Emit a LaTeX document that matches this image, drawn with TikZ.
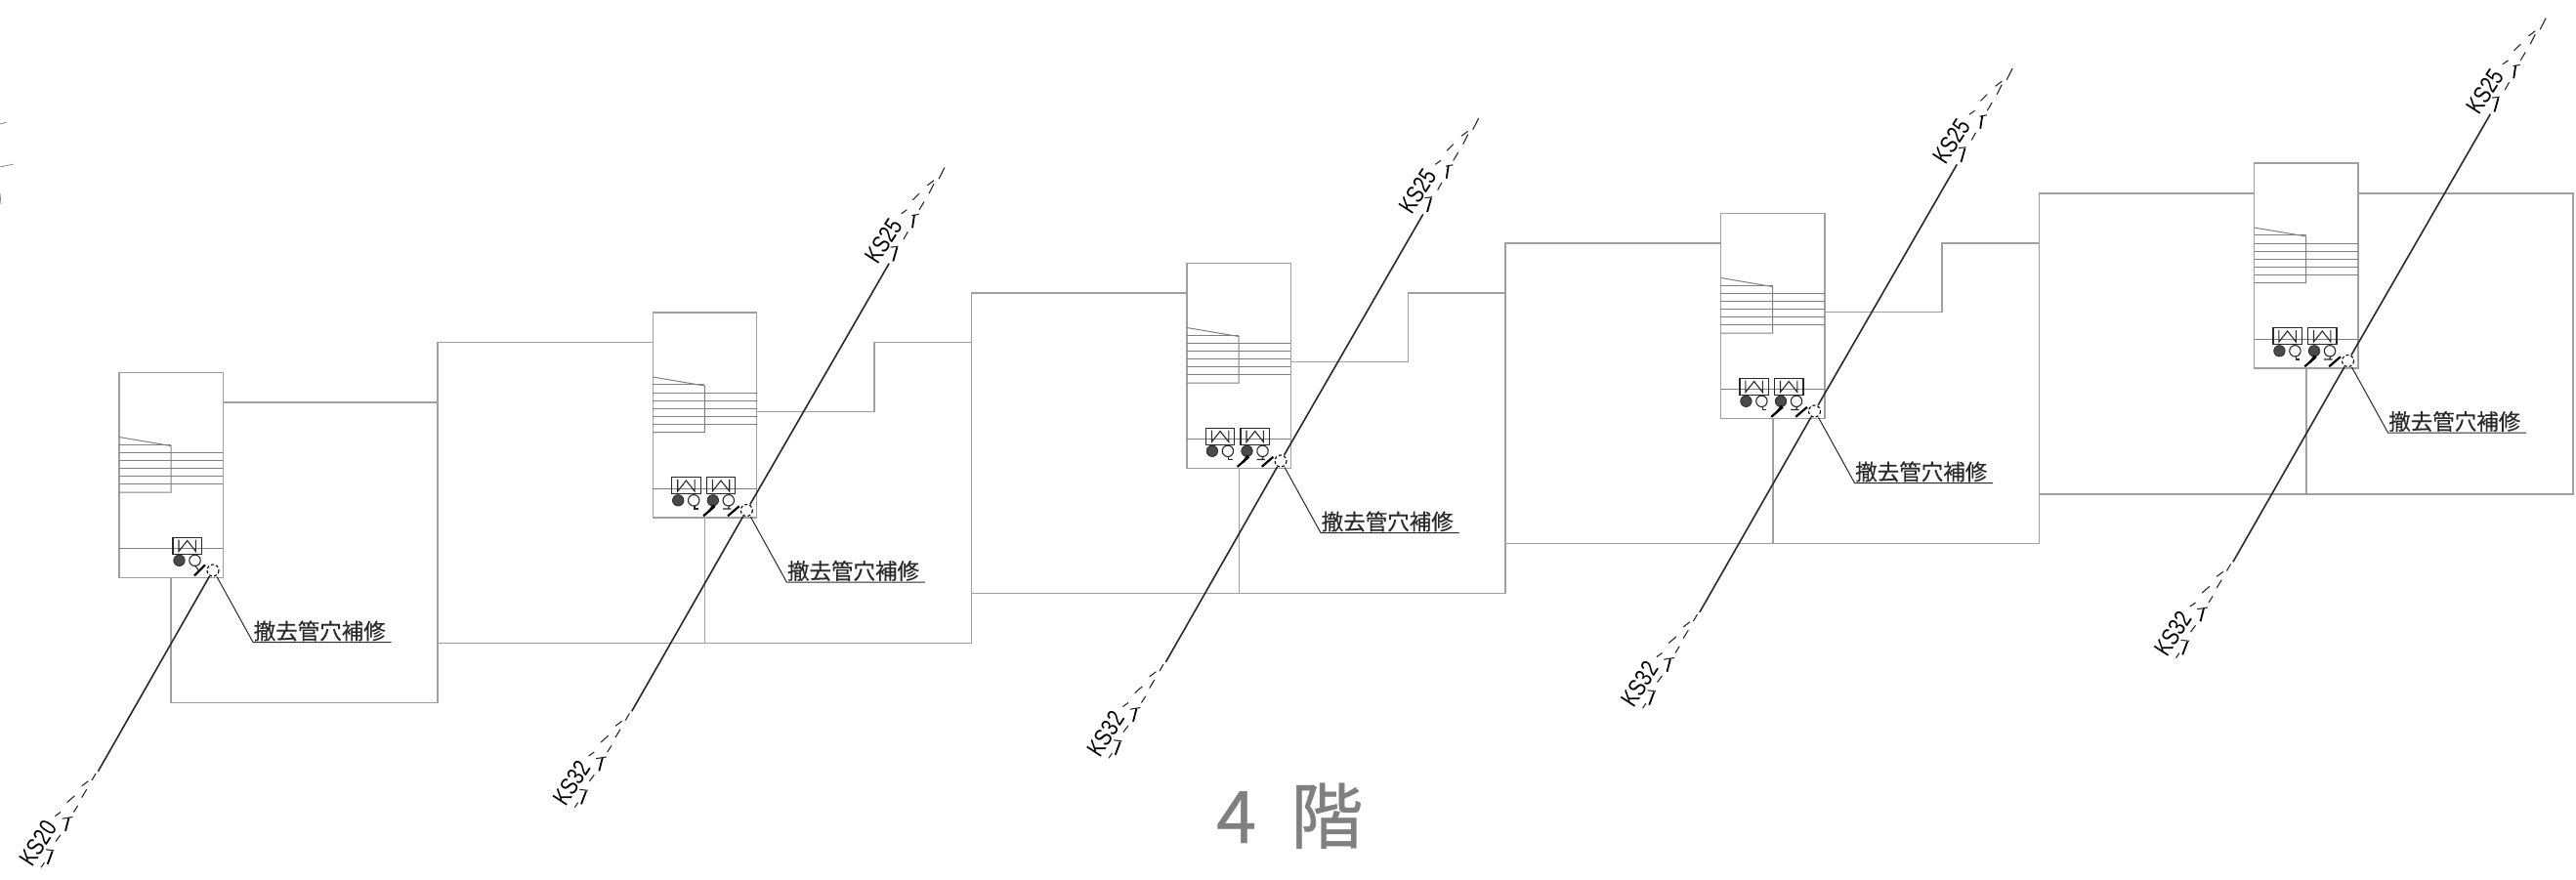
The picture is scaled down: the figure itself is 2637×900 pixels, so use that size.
\documentclass[tikz,border=0pt]{standalone}
\usepackage{fontspec}
\setmainfont{Liberation Sans}
\newfontfamily\jp[FakeBold=0.25]{Noto Sans CJK JP}
\newfontfamily\jptitle[FakeBold=0.6]{Noto Sans CJK JP}
\definecolor{wallc}{HTML}{A0A0A0}
\definecolor{inkc}{HTML}{2A2A2A}
\definecolor{titlec}{HTML}{808080}
\tikzset{
  wall/.style={draw=wallc,line width=1.3pt},
  thinwall/.style={draw=gray,line width=1.0pt},
  pipe/.style={draw=inkc,line width=1.6pt},
  dashpipe/.style={draw=inkc,line width=1.1pt},
  tick/.style={draw=inkc,line width=1.1pt},
  markstem/.style={draw=black,line width=1.8pt},
  slash/.style={draw=black,line width=2.2pt},
  mbox/.style={draw=inkc,line width=1.2pt},
  lead/.style={draw=inkc,line width=1.0pt},
  notetext/.style={font=\jp\fontsize{22.5}{22.5}\selectfont,text=inkc,inner sep=0pt,anchor=base west},
  kstext/.style={font=\fontsize{20}{20}\selectfont,text=black,inner sep=0pt,rotate=57,xscale=0.98,yscale=1.25},
  titletext/.style={font=\jptitle\fontsize{74}{74}\selectfont,text=titlec,inner sep=0pt,anchor=base west},
}
\newcommand{\shaftbox}[2]{
  \begin{scope}[shift={(#1,#2)}]
    \draw[wall] (0,0) rectangle (106.4,210);
    \draw[thinwall] (0,66) -- (53,75) -- (53,122.7) -- (0,122.7);
    \draw[thinwall] (0,73.7) -- (53,73.7);
    \foreach \yy in {82,90.3,98.3,106.3,114.3}{\draw[thinwall] (0,\yy) -- (106.4,\yy);}
    \draw[thinwall] (0,180) -- (106.4,180);
  \end{scope}}
\newcommand{\mtr}[1]{
  \begin{scope}[shift={(#1,0)}]
    \draw[mbox] (55,168.7) rectangle (84.4,185.7);
    \draw[tick] (61,171) -- (61,183) -- (69.7,172) -- (78.4,183) -- (78.4,171);
    \draw[draw=inkc,line width=0.8pt,fill=inkc!85] (61.5,192.3) circle (5.7);
    \draw[draw=inkc,line width=1.1pt,fill=white] (77.5,192.3) circle (5.7);
  \end{scope}}
\newcommand{\holenote}[3]{
  \begin{scope}[shift={(#1,#2)}]
    \coordinate (#3c) at (96,202.5);
    \draw[draw=black,line width=1.1pt,dash pattern=on 3pt off 2.2pt] (#3c) circle (6);
    \coordinate (#3u) at (137,276);
    \coordinate (#3v) at (278.5,276);
    \draw[lead] (100,209) -- (#3u) -- (#3v);
    \node[notetext] (#3n) at (137.5,273) {撤去管穴補修};
  \end{scope}}
\newcommand{\riserup}[4]{
  \begin{scope}[shift={(#1+96,#2+202.5)}]
    \coordinate (#3s) at (3.5,-6);
    \coordinate (#3t) at (145.8,-252.7);
    \draw[pipe] (#3s) -- (#3t);
    \draw[dashpipe] (202.7,-351) -- (196.7,-339.3) (191.7,-334.3) -- (186.7,-324.3) (181.7,-316) -- (176.7,-307.7) (165,-285.2) -- (160.7,-277.5);
    \draw[dashpipe] (191.7,-337.7) -- (185,-332.7) (176.7,-324.3) -- (170,-317.7) (164,-307.7) -- (158.4,-303.7);
    \draw[tick] (169,-301.8) -- (176.4,-303.2) (147.3,-269.3) -- (155,-270.3);
    \draw[markstem] (171.7,-302.5) -- (169.7,-289.2) (154,-269.3) -- (150,-255);
    \node[kstext] (#3) at (140,-276) {#4};
  \end{scope}}
\newcommand{\riserdown}[4]{
  \begin{scope}[shift={(#1+96,#2+202.5)}]
    \coordinate (#3s) at (-3.5,6);
    \coordinate (#3t) at (-117.6,205.8);
    \draw[pipe] (#3s) -- (#3t);
    \draw[dashpipe] (-120,208) -- (-124,215) (-129.3,224.2) -- (-134.3,232.5) (-138.3,240.8) -- (-142.6,247.5) (-156,270.8) -- (-161,277.5) (-172.6,299.2) -- (-176,304.2);
    \draw[dashpipe] (-127.6,215.8) -- (-134.3,220.8) (-141.6,230.8) -- (-149.3,237.5) (-156,247.5) -- (-161.6,251.5);
    \draw[tick] (-154.3,254.2) -- (-143.6,252.5) (-171,285.8) -- (-162.6,286.8);
    \draw[markstem] (-147.6,253.5) -- (-151,266.8) (-164.3,287.5) -- (-169.3,300.8);
    \node[kstext] (#3) at (-179.3,279.2) {#4};
  \end{scope}}
\begin{document}
\begin{tikzpicture}[x=1pt,y=-1pt]
\useasboundingbox (0,0) rectangle (2637,900);
\fill[white] (0,0) rectangle (2637,900);
\draw[wall] (227.5,412) -- (448,412);
\draw[wall] (175,591.5) -- (175,719.5) -- (448,719.5) -- (448,350.5) -- (668.3,350.5);
\draw[wall] (721.7,530) -- (721.7,658.5);
\draw[wall] (448,658.5) -- (994.5,658.5) -- (994.5,300) -- (1215,300);
\draw[wall] (774.7,421.3) -- (895,421.3) -- (895,350.5) -- (994.5,350.5);
\draw[wall] (1268.4,479.5) -- (1268.4,607.5);
\draw[wall] (994.5,607.5) -- (1541,607.5) -- (1541,249) -- (1761.5,249);
\draw[wall] (1321.4,370.5) -- (1441.5,370.5) -- (1441.5,300) -- (1541,300);
\draw[wall] (1814.9,428.5) -- (1814.9,556.5);
\draw[wall] (1541,556.5) -- (2087.5,556.5) -- (2087.5,198) -- (2307.5,198);
\draw[wall] (1867.9,319.5) -- (1988,319.5) -- (1988,249) -- (2087.5,249);
\draw[wall] (2361,377) -- (2361,506);
\draw[wall] (2087.5,506) -- (2634,506) -- (2634,198) -- (2414,198);
\shaftbox{122}{381.5}
\shaftbox{668.3}{320}
\shaftbox{1215}{269.5}
\shaftbox{1761.5}{218.5}
\shaftbox{2307.5}{167}
\begin{scope}[shift={(122,381.5)}]\mtr{0}\draw[slash] (77,207.8) -- (88,196.8);\draw[tick] (77.5,197.3) -- (81,202);\end{scope}
\foreach \ox/\oy in {668.3/320,1215/269.5,1761.5/218.5,2307.5/167}{
\begin{scope}[shift={(\ox,\oy)}]
  \mtr{-35.6}\mtr{0}
  \draw[slash] (51.7,208.3) -- (63.4,198.3);
  \draw[slash] (62.5,197) -- (57,204);
  \draw[slash] (76.7,208.3) -- (88.4,198.3);
  \draw[tick] (42.7,197.5) -- (42.7,201) -- (46.7,201);
  \draw[tick] (71.7,201) -- (80,201) (78.5,197.5) -- (77,201);
\end{scope}}
\holenote{122}{381.5}{a}
\holenote{668.3}{320}{b}
\holenote{1215}{269.5}{c}
\holenote{1761.5}{218.5}{d}
\holenote{2307.5}{167}{e}
\riserdown{122}{381.5}{la}{KS20}
\riserdown{668.3}{320}{lb}{KS32}
\riserup{668.3}{320}{ub}{KS25}
\riserdown{1215}{269.5}{lc}{KS32}
\riserup{1215}{269.5}{uc}{KS25}
\riserdown{1761.5}{218.5}{ld}{KS32}
\riserup{1761.5}{218.5}{ud}{KS25}
\riserdown{2307.5}{167}{le}{KS32}
\riserup{2307.5}{167}{ue}{KS25}
\node[titletext] (title) at (1245,863) {4\hspace{35pt}階};
\draw[draw=gray,line width=0.7pt] (0,127) -- (7,125);
\draw[draw=gray,line width=0.7pt] (0,171) -- (14,168);
\draw[draw=gray,line width=0.7pt] (0,198) -- (1,209);
\end{tikzpicture}
\end{document}
